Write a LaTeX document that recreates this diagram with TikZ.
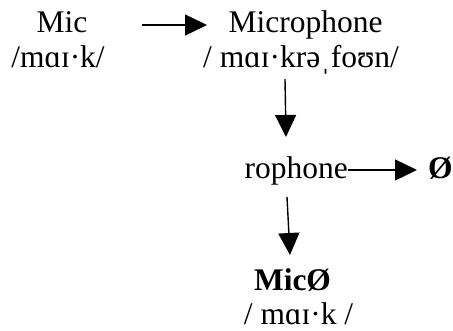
\documentclass[tikz,border=0pt]{standalone}
\usepackage{fontspec}
\setmainfont{Liberation Serif}
\usetikzlibrary{arrows.meta}
\begin{document}
\begin{tikzpicture}[x=1pt,y=-1pt,
  txt/.style={inner sep=0pt,anchor=base,font=\fontsize{31.5}{36}\selectfont},
  btxt/.style={txt,font=\fontsize{31.5}{36}\selectfont\bfseries},
  arr/.style={line width=1.4pt,-{Triangle[length=22pt,width=21pt]}}]
\useasboundingbox (0,0) rectangle (453,331);
\node[txt] (mic) at (62,33) {Mic};
\node[txt] (micp) at (58,68) {/mɑɪ·k/};
\node[txt] (microphone) at (305.5,33) {Microphone};
\node[txt] (microphonep) at (301,68) {/ mɑɪ·krəˌfoʊn/};
\node[txt,anchor=base east] (rophone) at (348,179) {rophone};
\node[btxt,anchor=base west] (zero) at (428,179) {Ø};
\node[btxt] (micz) at (292.5,291) {MicØ};
\node[txt] (miczp) at (298.5,325) {/ mɑɪ·k /};
\coordinate (a1s) at (142,25);
\coordinate (a1e) at (207,25);
\draw[arr] (a1s) -- (a1e);
\coordinate (a2s) at (285,79);
\coordinate (a2e) at (286,137);
\draw[arr] (a2s) -- (a2e);
\draw[arr] (rophone.east |- 0,170) -- ([xshift=-11pt]zero.west |- 0,170);
\coordinate (a4s) at (287,197);
\coordinate (a4e) at (290,255);
\draw[arr] (a4s) -- (a4e);
\end{tikzpicture}
\end{document}
